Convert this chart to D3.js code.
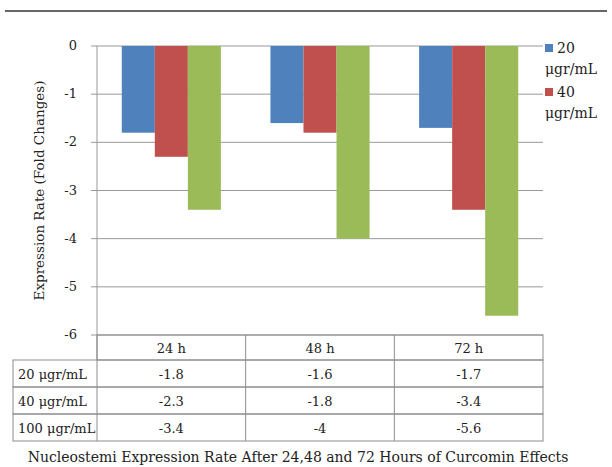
<!DOCTYPE html>
<html><head><meta charset="utf-8">
<script src="https://cdn.jsdelivr.net/npm/d3@7"></script>
<style>body{margin:0;background:#fff}svg{display:block}text{font-family:"DejaVu Serif",serif;}</style>
</head><body>
<svg id="c" width="612" height="467"></svg>
<script>
const categories = ["24 h","48 h","72 h"];
const seriesNames = ["20 μgr/mL","40 μgr/mL","100 μgr/mL"];
const s20 = [-1.8,-1.6,-1.7];
const s40 = [-2.3,-1.8,-3.4];
const s100 = [-3.4,-4,-5.6];
const yTicks = [0,-1,-2,-3,-4,-5,-6];
const colors = ["#4F81BD","#C0504D","#9BBB59"];
const series = [s20,s40,s100];

(function(){
const svg = d3.select("#c");
const pL=97, pR=543, pT=46, pB=335;
const x = d3.scaleBand().domain(categories).range([pL,pR]);
const xi = d3.scaleBand().domain(d3.range(3)).range([0,x.bandwidth()]).paddingInner(0).paddingOuter(0.75);
const y = d3.scaleLinear().domain([0,-6]).range([pT,pB]);

svg.append("line").attr("x1",5).attr("x2",607).attr("y1",11).attr("y2",11).attr("stroke","#333").attr("stroke-width",1.3);

svg.append("g").selectAll("line").data(yTicks).join("line")
  .attr("x1",pL-6).attr("x2",pR).attr("y1",d=>y(d)).attr("y2",d=>y(d))
  .attr("stroke","#999").attr("stroke-width",1);
svg.append("line").attr("x1",pL).attr("x2",pL).attr("y1",pT).attr("y2",pB).attr("stroke","#999");
svg.append("g").selectAll("text").data(yTicks).join("text")
  .attr("x",77).attr("y",d=>y(d)+4).attr("text-anchor","end").attr("font-size",13).attr("fill","#222")
  .text(d=>d);

series.forEach((s,si)=>{
  svg.append("g").selectAll("rect").data(s).join("rect")
    .attr("x",(d,i)=>x(categories[i])+xi(si)).attr("width",xi.bandwidth())
    .attr("y",y(0)).attr("height",d=>y(d)-y(0)).attr("fill",colors[si]);
});

svg.append("text").attr("transform","translate(44,"+((pT+pB)/2)+") rotate(-90)")
  .attr("text-anchor","middle").attr("font-size",13.5).attr("fill","#222").text("Expression Rate (Fold Changes)");

const lg = svg.append("g");
[0,1].forEach(i=>{
  const yy = 48 + i*44;
  lg.append("rect").attr("x",545).attr("y",yy-4).attr("width",8).attr("height",8).attr("fill",colors[i]);
  const parts = seriesNames[i].split(" ");
  lg.append("text").attr("x",557).attr("y",yy+5).attr("font-size",14).attr("fill","#222").text(parts[0]);
  lg.append("text").attr("x",545).attr("y",yy+26).attr("font-size",14).attr("fill","#222").text(parts[1]);
});

const rowH=[335,360,387,414,441];
const tb = svg.append("g").attr("stroke","#8c8c8c").attr("fill","none");
tb.append("rect").attr("x",pL).attr("y",rowH[0]).attr("width",pR-pL).attr("height",rowH[1]-rowH[0]);
for(let r=1;r<=3;r++){
  tb.append("rect").attr("x",13).attr("y",rowH[r]).attr("width",pR-13).attr("height",rowH[r+1]-rowH[r]);
}
categories.forEach((c,i)=>{
  if(i>0) tb.append("line").attr("x1",x(c)).attr("x2",x(c)).attr("y1",rowH[0]).attr("y2",rowH[4]);
});
tb.append("line").attr("x1",pL).attr("x2",pL).attr("y1",rowH[0]).attr("y2",rowH[4]);
svg.append("g").selectAll("text").data(categories).join("text")
  .attr("x",d=>x(d)+x.bandwidth()/2).attr("y",rowH[0]+18).attr("text-anchor","middle").attr("font-size",13).attr("fill","#222").text(d=>d);
series.forEach((s,si)=>{
  const ry = rowH[si+1]+19;
  svg.append("text").attr("x",18).attr("y",ry).attr("font-size",13).attr("fill","#222").text(seriesNames[si]);
  svg.append("g").selectAll("text").data(s).join("text")
    .attr("x",(d,i)=>x(categories[i])+x.bandwidth()/2).attr("y",ry).attr("text-anchor","middle").attr("font-size",13).attr("fill","#222").text(d=>d);
});

svg.append("text").attr("x",298).attr("y",462).attr("text-anchor","middle").attr("font-size",14).attr("fill","#222")
  .text("Nucleostemi Expression Rate After 24,48 and 72 Hours of Curcomin Effects");
})();
</script>
</body></html>
